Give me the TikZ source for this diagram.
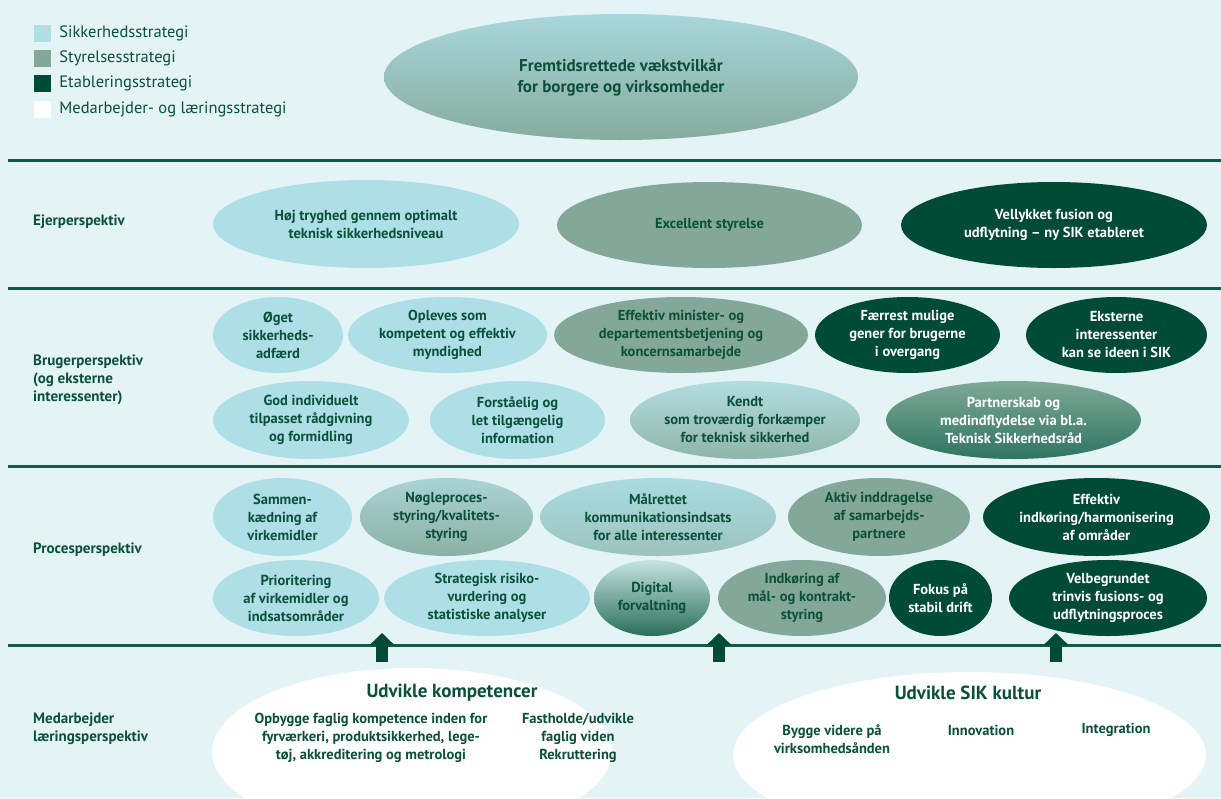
\documentclass[tikz,border=0pt]{standalone}
\usepackage{fontspec}
\setmainfont{PT Sans}
\usetikzlibrary{arrows.meta, positioning, shapes.geometric}

\definecolor{paper}{HTML}{E3F3F6}
\definecolor{ink}{HTML}{0B5039}
\definecolor{sikkerblue}{HTML}{AEDFE7}
\definecolor{styrelsegreen}{HTML}{83A89A}
\definecolor{etablgreen}{HTML}{004B35}
% shaded (mixed) ellipses
\definecolor{visiontop}{HTML}{A9D6DB}
\definecolor{visionbottom}{HTML}{86AC9E}
\definecolor{kendttop}{HTML}{B2DCE0}
\definecolor{kendtbottom}{HTML}{8FB5A8}
\definecolor{partnertop}{HTML}{7FA898}
\definecolor{partnerbottom}{HTML}{2F7560}
\definecolor{noegletop}{HTML}{A9D3D4}
\definecolor{noeglebottom}{HTML}{8BB1A5}
\definecolor{maaltop}{HTML}{AADBE0}
\definecolor{maalbottom}{HTML}{9CC3BE}
\definecolor{digitaltop}{HTML}{C4E4E2}
\definecolor{digitalbottom}{HTML}{2A6E58}

\tikzset{
    goal/.style = {
      ellipse, inner sep=0, align=center, text=ink,
      font=\bfseries\fontsize{14.5}{18}\selectfont,
    },
    oval/.style 2 args = {minimum width=#1pt, minimum height=#2pt},
    sikker/.style = {goal, fill=sikkerblue},
    styrelse/.style = {goal, fill=styrelsegreen},
    etabl/.style = {goal, fill=etablgreen, text=white},
    medarb/.style = {goal, fill=white},
    blend/.style = {goal, top color=#1top, bottom color=#1bottom},
    item/.style = {align=center, inner sep=0, text=ink,
      font=\bfseries\fontsize{14.5}{18}\selectfont},
    item title/.style = {item, font=\bfseries\fontsize{19}{22}\selectfont},
    perspective/.style = {anchor=west, align=left, inner sep=0, text=ink,
      font=\bfseries\fontsize{15}{18}\selectfont},
    level/.style = {line width=3pt, draw=etablgreen!92!white},
    lift/.style = {line width=12pt, etablgreen,
      arrows={-Triangle[width=24pt, length=12pt]}},
    key/.style = {minimum size=17pt, inner sep=0},
    key label/.style = {right=8pt of #1, inner sep=0, text=ink,
      font=\fontsize{16.5}{18}\selectfont},
}

\begin{document}
\begin{tikzpicture}[x=1pt, y=-1pt]
  %% Background and frame
  \fill [paper] (0,0) rectangle (1221,798);
  \useasboundingbox (0,0) rectangle (1221,798);

  %% Legend
  \foreach \col/\name [count=\i] in {sikkerblue/Sikkerhedsstrategi,
      styrelsegreen/Styrelsesstrategi, etablgreen/Etableringsstrategi,
      white/Medarbejder- og læringsstrategi}{%
    \node [key, fill=\col] (key_\i) at (42.5, 8 + 25.3*\i) {};
    \node [key label=key_\i] (keytext_\i) {\name};
  }

  %% Vision
  \node [blend=vision, oval={474}{126},
         font=\bfseries\fontsize{17}{21}\selectfont]
        (vision) at (621,77) {Fremtidsrettede vækstvilkår\\for borgere og virksomheder};

  %% Levels
  \foreach \y in {160,288,466,645}{%
    \draw [level] (8,\y) -- (1221,\y);
  }

  %% Perspectives
  \node [perspective] (p_ejer) at (33,222) {Ejerperspektiv};
  \node [perspective] (p_bruger) at (33,380) {Brugerperspektiv\\(og eksterne\\interessenter)};
  \node [perspective] (p_proces) at (33,550) {Procesperspektiv};
  \node [perspective] (p_medarb) at (33,729) {Medarbejder\\læringsperspektiv};

  %% Ejerperspektiv
  \node [sikker, oval={306}{88}] (ejer_tryghed) at (366,224)
        {Høj tryghed gennem optimalt\\teknisk sikkerhedsniveau};
  \node [styrelse, oval={305}{86}] (ejer_styrelse) at (709.5,225) {Excellent styrelse};
  \node [etabl, oval={306}{86}] (ejer_fusion) at (1054,225)
        {Vellykket fusion og\\udflytning -- ny SIK etableret};

  %% Brugerperspektiv
  \node [sikker, oval={130}{76}] (bru_adfaerd) at (278,335) {Øget\\sikkerheds-\\adfærd};
  \node [sikker, oval={199}{76}] (bru_myndighed) at (447.5,335)
        {Opleves som\\kompetent og effektiv\\myndighed};
  \node [styrelse, oval={254}{76}] (bru_minister) at (681,335)
        {Effektiv minister- og\\departementsbetjening og\\koncernsamarbejde};
  \node [etabl, oval={185}{76}] (bru_gener) at (907.5,335)
        {Færrest mulige\\gener for brugerne\\i overgang};
  \node [etabl, oval={181}{76}] (bru_eksterne) at (1116.5,335)
        {Eksterne\\interessenter\\kan se ideen i SIK};
  \node [sikker, oval={196}{78}] (bru_raadgivning) at (311,420)
        {God individuelt\\tilpasset rådgivning\\og formidling};
  \node [sikker, oval={175}{78}] (bru_information) at (517.5,420)
        {Forståelig og\\let tilgængelig\\information};
  \node [blend=kendt, oval={230}{78}] (bru_kendt) at (745,420)
        {Kendt\\som troværdig forkæmper\\for teknisk sikkerhed};
  \node [blend=partner, text=white, oval={255}{78}]
        (bru_partner) at (1013.5,420)
        {Partnerskab og\\medindflydelse via bl.a.\\Teknisk Sikkerhedsråd};

  %% Procesperspektiv
  \node [sikker, oval={139}{78}] (pro_sammen) at (282.5,517)
        {Sammen-\\kædning af\\virkemidler};
  \node [blend=noegle, oval={173}{78}] (pro_noegle) at (446.5,517)
        {Nøgleproces-\\styring/kvalitets-\\styring};
  \node [blend=maal, oval={236}{78}] (pro_maalrettet) at (658,517)
        {Målrettet\\kommunikationsindsats\\for alle interessenter};
  \node [styrelse, oval={182}{78}] (pro_aktiv) at (879,517)
        {Aktiv inddragelse\\af samarbejds-\\partnere};
  \node [etabl, oval={227}{78}] (pro_effektiv) at (1096.5,517)
        {Effektiv\\indkøring/harmonisering\\af områder};
  \node [sikker, oval={166}{76}] (pro_prioritering) at (296,598)
        {Prioritering\\af virkemidler og\\indsatsområder};
  \node [sikker, oval={206}{76}] (pro_risiko) at (487,598)
        {Strategisk risiko-\\vurdering og\\statistiske analyser};
  \node [blend=digital, oval={116}{76}] (pro_digital) at (652,598)
        {Digital\\forvaltning};
  \node [styrelse, oval={168}{76}] (pro_kontrakt) at (802,598)
        {Indkøring af\\mål- og kontrakt-\\styring};
  \node [etabl, oval={103}{76}] (pro_fokus) at (940.5,598) {Fokus på\\stabil drift};
  \node [etabl, oval={198}{76}] (pro_udflytning) at (1108,598)
        {Velbegrundet\\trinvis fusions- og\\udflytningsproces};

  %% Medarbejder- og læringsperspektiv
  \node [medarb, oval={400}{168}] (med_komp) at (412,752) {};
  \node [medarb, oval={473}{166}] (med_kultur) at (969.5,755) {};
  \node [item title] (med_komp_title) at (452,693) {Udvikle kompetencer};
  \node [item title] (med_kultur_title) at (968,693) {Udvikle SIK kultur};
  \node [item] (med_opbygge) at (371,738)
        {Opbygge faglig kompetence inden for\\fyrværkeri, produktsikkerhed, lege-\\tøj, akkreditering og metrologi};
  \node [item] (med_fastholde) at (578,738)
        {Fastholde/udvikle\\faglig viden\\Rekruttering};
  \node [item] (med_bygge) at (832,739) {Bygge videre på\\virksomhedsånden};
  \node [item] (med_innovation) at (981,730) {Innovation};
  \node [item] (med_integration) at (1116,730) {Integration};

  %% Lift from learning into processes
  \foreach \x [count=\n] in {382,719,1056}{%
    \coordinate (lift_from_\n) at (\x,662);
    \coordinate (lift_to_\n) at (\x,633);
    \draw [lift] (lift_from_\n) -- (lift_to_\n);
  }
\end{tikzpicture}
\end{document}
